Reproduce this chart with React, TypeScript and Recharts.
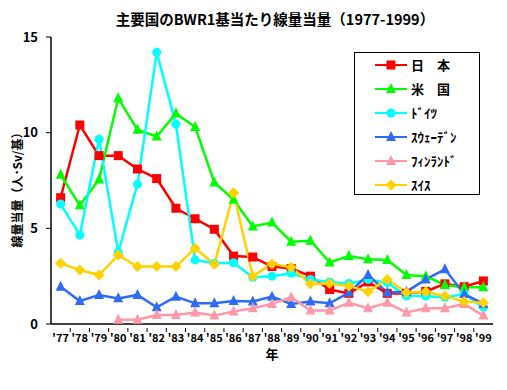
import React from 'react';
import { LineChart, Line, XAxis, YAxis, CartesianGrid } from 'recharts';

const years = ["'77","'78","'79","'80","'81","'82","'83","'84","'85","'86","'87","'88","'89","'90","'91","'92","'93","'94","'95","'96","'97","'98","'99"];
const japan = [6.6,10.4,8.8,8.8,8.1,7.6,6.05,5.5,4.95,3.55,3.5,3.0,2.9,2.5,1.8,1.6,2.2,1.6,1.6,1.7,2.1,1.95,2.25];
const usa = [7.8,6.2,7.55,11.8,10.15,9.8,11.0,10.3,7.4,6.5,5.1,5.3,4.3,4.35,3.22,3.55,3.38,3.35,2.56,2.5,2.04,1.92,1.92];
const germany = [6.27,4.65,9.65,3.75,7.3,14.2,10.45,3.35,3.17,3.2,2.44,2.5,2.65,2.33,2.2,2.12,2.33,2.16,1.46,1.46,1.39,1.57,0.87];
const sweden = [1.95,1.2,1.52,1.34,1.52,0.87,1.43,1.08,1.08,1.2,1.18,1.43,1.05,1.17,1.08,1.64,2.56,1.64,1.69,2.33,2.86,1.57,1.05];
const finland: (number | null)[] = [null,null,null,0.22,0.22,0.47,0.47,0.6,0.44,0.65,0.82,1.05,1.4,0.7,0.7,1.11,0.82,1.11,0.6,0.82,0.82,1.05,0.44];
const swiss = [3.17,2.82,2.56,3.6,3.0,3.0,3.0,3.96,3.12,6.86,2.5,3.14,2.96,2.1,2.12,1.99,1.69,2.33,1.64,1.69,1.46,1.17,1.11];
const yTicks = [0, 5, 10, 15];
const gridValues = [1,2,3,4,5,6,7,8,9,10,11,12,13,14];

const data = years.map((y, i) => ({
  year: y,
  japan: japan[i],
  usa: usa[i],
  germany: germany[i],
  sweden: sweden[i],
  finland: finland[i],
  swiss: swiss[i],
}));

const FONT = '"Noto Sans CJK JP", "DejaVu Sans", sans-serif';

const Square = (p: any) => p.cx == null || p.cy == null ? null : <rect x={p.cx - 4.5} y={p.cy - 4.5} width={9} height={9} fill={p.fill} />;
const Triangle = (p: any) => p.cx == null || p.cy == null ? null : <polygon points={`${p.cx},${p.cy - 6} ${p.cx - 5},${p.cy + 4} ${p.cx + 5},${p.cy + 4}`} fill={p.fill} />;
const Circle = (p: any) => p.cx == null || p.cy == null ? null : <circle cx={p.cx} cy={p.cy} r={4.5} fill={p.fill} />;
const Diamond = (p: any) => p.cx == null || p.cy == null ? null : <polygon points={`${p.cx},${p.cy - 5.5} ${p.cx + 5.5},${p.cy} ${p.cx},${p.cy + 5.5} ${p.cx - 5.5},${p.cy}`} fill={p.fill} />;

const series = [
  { key: 'japan', name: '日　本', color: '#FF0000', Dot: Square },
  { key: 'usa', name: '米　国', color: '#00FF00', Dot: Triangle },
  { key: 'germany', name: 'ﾄﾞｲﾂ', color: '#00FFFF', Dot: Circle },
  { key: 'sweden', name: 'ｽｳｪｰﾃﾞﾝ', color: '#2F6CF5', Dot: Triangle },
  { key: 'finland', name: 'ﾌｨﾝﾗﾝﾄﾞ', color: '#FF99AA', Dot: Triangle },
  { key: 'swiss', name: 'ｽｲｽ', color: '#FFD200', Dot: Diamond },
];

const PLOT_W = 442;
const STEP = PLOT_W / years.length;

const XTick = (p: any) => {
  const { x, y, payload, index } = p;
  return (
    <g>
      {index > 0 && <line x1={x - STEP / 2} x2={x - STEP / 2} y1={y - 4} y2={y} stroke="#000" strokeWidth={1} />}
      <text x={x} y={y + 10} textAnchor="middle" fontSize={11} fontWeight="bold" fontFamily={FONT} fill="#000">{payload.value}</text>
    </g>
  );
};

const LegendBox = () => (
  <div style={{ position: 'absolute', left: 354, top: 52, width: 126, height: 143, border: '1.5px solid #000', background: '#fff', boxSizing: 'border-box' }}>
    {series.map((s) => (
      <div key={s.key} style={{ display: 'flex', alignItems: 'center', height: 24, marginLeft: 20 }}>
        <svg width={34} height={14} style={{ display: 'block' }}>
          <line x1={0} x2={32} y1={7} y2={7} stroke={s.color} strokeWidth={2} />
          <s.Dot cx={16} cy={7} fill={s.color} />
        </svg>
        <span style={{ fontFamily: FONT, fontWeight: 'bold', fontSize: 13, marginLeft: 2, color: '#000', lineHeight: '24px' }}>{s.name}</span>
      </div>
    ))}
  </div>
);

export default function App() {
  return (
    <div style={{ position: 'absolute', left: 0, top: 0, width: 507, height: 390, background: '#fff' }}>
      <LineChart width={507} height={390} data={data} margin={{ top: 37, right: 14, left: 0, bottom: 0 }}>
        <text x={275} y={25} textAnchor="middle" fontSize={14.5} fontWeight="bold" fontFamily={FONT} fill="#000">主要国のBWR1基当たり線量当量（1977-1999）</text>
        <text x={22} y={187} textAnchor="middle" fontSize={12} fontWeight="bold" fontFamily={FONT} fill="#000" transform="rotate(-90 22 187)">線量当量（人･Sv/基）</text>
        <text x={272} y={359} textAnchor="middle" fontSize={13} fontWeight="bold" fontFamily={FONT} fill="#000">年</text>
        <CartesianGrid vertical={false} horizontalValues={gridValues} stroke="#B0ADA0" strokeWidth={1.5} />
        <XAxis dataKey="year" xAxisId="b" height={66} interval={0} padding={{ left: STEP / 2, right: STEP / 2 }} tick={<XTick />} tickLine={false} axisLine={{ stroke: '#000', strokeWidth: 1.5 }} />
        <XAxis dataKey="year" xAxisId="t" orientation="top" height={0} tick={false} tickLine={false} axisLine={{ stroke: '#000', strokeWidth: 1.5 }} />
        <YAxis yAxisId="l" width={51} domain={[0, 15]} ticks={yTicks} interval={0} tickSize={5} tickMargin={8} tickLine={{ stroke: '#000' }} axisLine={{ stroke: '#000', strokeWidth: 1.5 }} tick={{ fontSize: 13, fontWeight: 'bold', fontFamily: FONT, fill: '#000' }} />
        <YAxis yAxisId="r" orientation="right" width={0} domain={[0, 15]} tick={false} tickLine={false} axisLine={{ stroke: '#000', strokeWidth: 1.5 }} />
        {series.map((s) => (
          <Line key={s.key} xAxisId="b" yAxisId="l" type="linear" dataKey={s.key} name={s.name} stroke={s.color} strokeWidth={2.5} dot={<s.Dot fill={s.color} />} activeDot={false} isAnimationActive={false} />
        ))}
      </LineChart>
      <LegendBox />
    </div>
  );
}
